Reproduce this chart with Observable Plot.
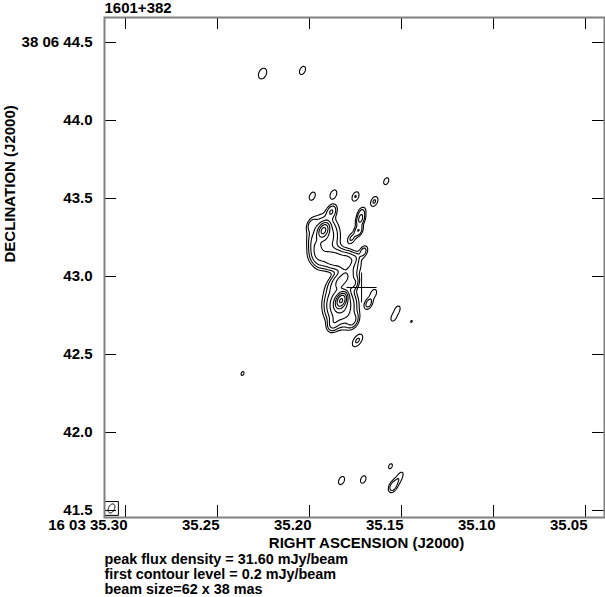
<!DOCTYPE html>
<html><head><meta charset="utf-8">
<script src="https://cdn.jsdelivr.net/npm/d3@7"></script>
<script src="https://cdn.jsdelivr.net/npm/@observablehq/plot@0.6"></script>
<style>body{margin:0;background:#fff}</style>
</head><body><div id="chart"></div>
<script>
// ---- text ----
const title = "1601+382";
const xLabel = "RIGHT ASCENSION (J2000)";
const yLabel = "DECLINATION (J2000)";
const notes = ["peak flux density = 31.60 mJy/beam", "first contour level = 0.2 mJy/beam", "beam size=62 x 38 mas"];

// ---- axes ----
const xTicks = [35.30, 35.25, 35.20, 35.15, 35.10, 35.05];          // RA seconds (16h03m)
const xTickLabels = ["16 03 35.30", "35.25", "35.20", "35.15", "35.10", "35.05"];
const yTicks = [41.5, 42.0, 42.5, 43.0, 43.5, 44.0, 44.5];           // Dec arcsec (+38d06m)
const yTickLabels = ["41.5", "42.0", "42.5", "43.0", "43.5", "44.0", "38 06 44.5"];
const xDomain = [35.3114, 35.0397];
const yDomain = [41.4551, 44.6603];

// ---- contour levels (mJy/beam) ----
const levels = [0.2, 0.4, 0.8, 1.6, 3.2, 6.4, 12.8, 25.6];

const compRA   = [35.2255, 35.2038, 35.1985, 35.1870, 35.1750, 35.1648, 35.1583,
                  35.1924, 35.1920, 35.1880, 35.1989, 35.1962, 35.1862, 35.1799, 35.1821, 35.1760,
                  35.1828, 35.1832, 35.1870, 35.1766,
                  35.1717, 35.1723, 35.1734, 35.1772, 35.1707, 35.1755,
                  35.1679, 35.1652, 35.1739, 35.1522, 35.1543, 35.1446, 35.2364,
                  35.1826, 35.1708, 35.1560, 35.1518, 35.1548];
const compDec  = [44.301, 44.321, 43.515, 43.526, 43.513, 43.481, 43.611,
                  43.295, 43.263, 43.417, 43.333, 43.167, 43.110, 43.090, 42.981, 42.955,
                  42.846, 42.814, 42.699, 42.718,
                  43.410, 43.365, 43.295, 43.244, 43.160, 43.115,
                  42.827, 42.891, 42.590, 42.788, 42.737, 42.712, 42.378,
                  41.692, 41.699, 41.784, 41.699, 41.654];
const compPeak = [0.38, 0.35, 0.35, 0.40, 0.42, 0.45, 0.30,
                  7.0, 1.6, 0.8, 0.5, 1.3, 2.6, 1.1, 2.0, 0.8,
                  26.0, 4.0, 1.0, 0.9,
                  0.5, 0.9, 0.8, 0.45, 0.6, 0.45,
                  0.6, 0.35, 0.45, 0.3, 0.3, 0.21, 0.23,
                  0.35, 0.32, 0.25, 0.38, 0.55];
const compMaj  = [75, 62, 62, 62, 62, 62, 62,
                  62, 160, 70, 62, 130, 170, 90, 130, 70,
                  62, 150, 75, 75,
                  62, 62, 62, 62, 62, 62,
                  62, 62, 85, 62, 62, 62, 62,
                  62, 62, 62, 110, 62];
const compMin  = [50, 38, 38, 38, 38, 38, 38,
                  38, 120, 45, 38, 60, 90, 55, 70, 45,
                  38, 115, 50, 50,
                  38, 38, 38, 38, 38, 38,
                  38, 38, 45, 38, 38, 38, 38,
                  38, 38, 38, 40, 38];
const compPA   = [-25, -25, -25, -25, -25, -25, -25,
                  -25, 0, -25, -25, 10, 80, -25, -50, -25,
                  -25, 0, -25, -25,
                  -25, -25, -25, -25, -25, -25,
                  -25, -25, -35, -25, -25, -25, -25,
                  -25, -25, -25, -30, -25];

// ---- beam and reference cross ----
const beamMaj = [62], beamMin = [38], beamPA = [-25];
const beamRA = [35.3076], beamDec = [41.513];
const crossRA = [35.1717], crossDec = [42.9295], crossErrRA = [0.00815], crossErrDec = [0.096];

// ---- model evaluation ----
const K = 15 * Math.cos((38 + 6 / 60 + 44 / 3600) * Math.PI / 180);
function gauss(ra0, dec0, amp, maj, min, pa) {
  const th = pa * Math.PI / 180, s = Math.sin(th), c = Math.cos(th);
  const im = 4 * Math.LN2 / (maj / 1000) ** 2, iN = 4 * Math.LN2 / (min / 1000) ** 2;
  return (ra, dec) => {
    const e = (ra - ra0) * K, n = dec - dec0;
    const u = e * s + n * c, v = e * c - n * s;
    const r = u * u * im + v * v * iN;
    return r < 40 ? amp * Math.exp(-r) : 0;
  };
}
const comps = compRA.map((ra, i) => gauss(ra, compDec[i], compPeak[i], compMaj[i], compMin[i], compPA[i]));
const brightness = (ra, dec) => { let s = 0; for (const g of comps) s += g(ra, dec); return s; };
const beamFn = gauss(beamRA[0], beamDec[0], 1, beamMaj[0], beamMin[0], beamPA[0]);

const crossH = crossRA.map((r, i) => ({x1: r + crossErrRA[i], x2: r - crossErrRA[i], y1: crossDec[i], y2: crossDec[i]}));
const crossV = crossRA.map((r, i) => ({x1: r, x2: r, y1: crossDec[i] - crossErrDec[i], y2: crossDec[i] + crossErrDec[i]}));

const font = {fontSize: 15, fontWeight: "bold"};
const noteFont = {fontSize: 14.4, fontWeight: "bold"};
const chart = Plot.plot({
  width: 605, height: 597,
  marginLeft: 104, marginRight: 1, marginTop: 17, marginBottom: 80,
  style: {fontFamily: "'Liberation Sans', Arial, Helvetica, sans-serif", color: "black", background: "white"},
  x: {domain: xDomain, axis: null},
  y: {domain: yDomain, axis: null},
  marks: [
    Plot.contour({value: brightness, x1: xDomain[0], x2: xDomain[1], y1: yDomain[0], y2: yDomain[1],
      thresholds: levels, pixelSize: 1, fill: "none", stroke: "black", strokeWidth: 1.1}),
    Plot.contour({value: beamFn, x1: beamRA[0] + 0.004, x2: beamRA[0] - 0.004, y1: beamDec[0] - 0.05, y2: beamDec[0] + 0.05,
      thresholds: [0.5], pixelSize: 0.5, fill: "none", stroke: "black", strokeWidth: 1}),
    Plot.dot(beamRA.map((r, i) => ({x: r, y: beamDec[i]})), {x: "x", y: "y", symbol: "square", r: 7.8, stroke: "black", fill: "none", strokeWidth: 1}),
    Plot.link(crossH, {x1: "x1", x2: "x2", y1: "y1", y2: "y2", stroke: "black", strokeWidth: 1}),
    Plot.link(crossV, {x1: "x1", x2: "x2", y1: "y1", y2: "y2", stroke: "black", strokeWidth: 1}),
    // inward ticks on all four sides
    Plot.ruleX(xTicks, {x: d => d, insetTop: 488, stroke: "black"}),
    Plot.ruleX(xTicks, {x: d => d, insetBottom: 488, stroke: "black"}),
    Plot.ruleY(yTicks, {y: d => d, insetRight: 488, stroke: "black"}),
    Plot.ruleY(yTicks, {y: d => d, insetLeft: 488, stroke: "black"}),
    Plot.frame({stroke: "#808080", strokeWidth: 2}),
    Plot.axisX(xTicks, {tickSize: 0, tickPadding: 2, textAnchor: "end", dx: 2, label: null,
      tickFormat: (d, i) => xTickLabels[i], ...font}),
    Plot.axisY(yTicks, {tickSize: 0, tickPadding: 12, label: null,
      tickFormat: (d, i) => yTickLabels[i], ...font}),
    Plot.text([title], {frameAnchor: "top-left", dy: -9, textAnchor: "start", lineAnchor: "middle", ...font}),
    Plot.text([xLabel], {frameAnchor: "bottom", dx: 12, dy: 26, lineAnchor: "middle", ...font}),
    Plot.text([yLabel], {frameAnchor: "left", dx: -94, dy: -5, rotate: -90, lineAnchor: "middle", ...font}),
    ...notes.map((t, i) => Plot.text([t], {frameAnchor: "bottom-left", dy: 42 + i * 15, textAnchor: "start", lineAnchor: "middle", ...noteFont}))
  ]
});
document.getElementById("chart").appendChild(chart);
</script>
</body></html>
